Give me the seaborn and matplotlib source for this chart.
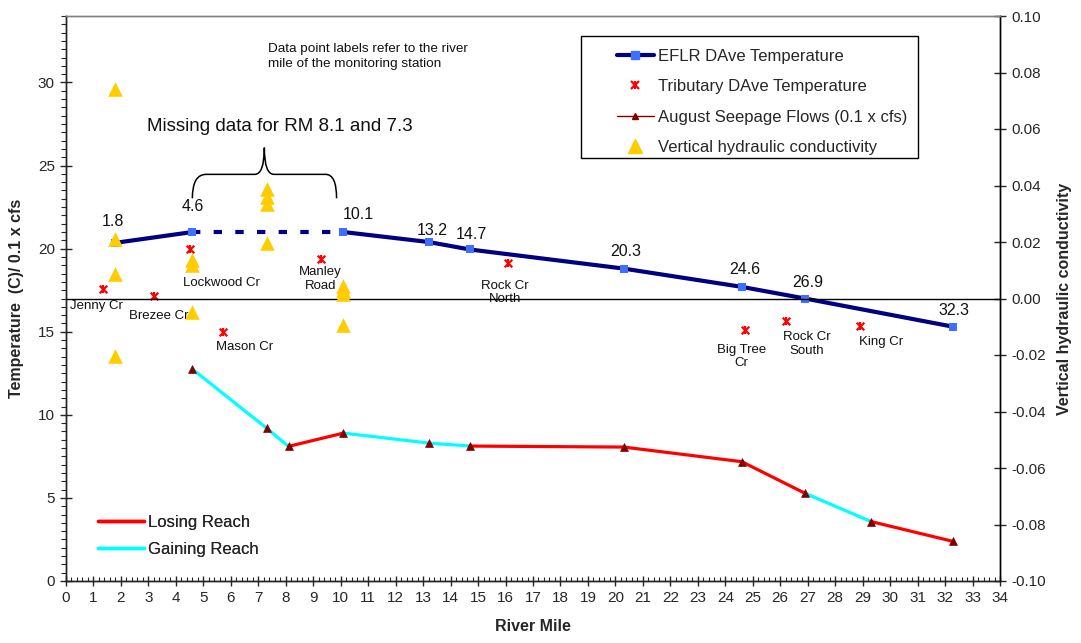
import numpy as np
import pandas as pd
import matplotlib
matplotlib.use("Agg")
import matplotlib.pyplot as plt
from matplotlib.lines import Line2D
from matplotlib.patches import Rectangle, PathPatch
from matplotlib.path import Path
import seaborn as sns

# ---------------- data ----------------
eflr_mile = [1.8, 4.6, 10.1, 13.2, 14.7, 20.3, 24.6, 26.9, 32.3]
eflr_temp = [20.35, 21.0, 21.0, 20.4, 19.95, 18.8, 17.7, 17.0, 15.3]
eflr_labels = ["1.8", "4.6", "10.1", "13.2", "14.7", "20.3", "24.6", "26.9", "32.3"]

trib_names = ["Jenny Cr", "Brezee Cr", "Lockwood Cr", "Mason Cr", "Manley\nRoad",
              "Rock Cr\nNorth", "Big Tree\nCr", "Rock Cr\nSouth", "King Cr"]
trib_mile = [1.36, 3.2, 4.5, 5.7, 9.3, 16.1, 24.7, 26.2, 28.9]
trib_temp = [17.55, 17.15, 19.95, 14.97, 19.38, 19.15, 15.13, 15.65, 15.35]

seep_mile = [4.6, 7.3, 8.1, 10.1, 13.2, 14.7, 20.3, 24.6, 26.9, 29.3, 32.3]
seep_flow = [12.75, 9.2, 8.1, 8.9, 8.3, 8.12, 8.06, 7.18, 5.28, 3.58, 2.38]
# reach type of each segment between consecutive seepage points
seep_reach = ["Gaining", "Gaining", "Losing", "Gaining", "Gaining",
              "Losing", "Losing", "Losing", "Gaining", "Losing"]

vhc_mile = [1.8, 1.8, 1.8, 1.8, 4.6, 4.6, 4.6, 7.3, 7.3, 7.3, 7.3, 10.1, 10.1, 10.1, 10.1]
vhc_value = [0.0743, 0.0210, 0.0088, -0.0204, 0.0135, 0.0118, -0.0047,
             0.0389, 0.0360, 0.0333, 0.0195, 0.0045, 0.0030, 0.0015, -0.0094]

x_ticks = list(range(0, 35))
left_ticks = [0, 5, 10, 15, 20, 25, 30]
right_ticks = [-0.10, -0.08, -0.06, -0.04, -0.02, 0.00, 0.02, 0.04, 0.06, 0.08, 0.10]

# ---------------- style ----------------
sns.set_theme(style="white")
plt.rcParams["font.family"] = ["Liberation Sans", "DejaVu Sans"]
plt.rcParams["axes.linewidth"] = 1.0

NAVY = "#000080"
BLUE = "#3F6FFF"
TRIB = "#FF0000"
DARKRED = "#800000"
GOLD = "#FFCC00"
LOSE = "#FF0000"
GAIN = "#00FFFF"

fig = plt.figure(figsize=(10.81, 6.43), dpi=100)
ax = fig.add_axes([66 / 1081, 1 - 581 / 643, (1000 - 66) / 1081, (581 - 16) / 643])
ax.set_xlim(0, 34)
ax.set_ylim(0, 34)

# ---- seepage flows, coloured by reach ----
seep_df = pd.DataFrame({"mile": seep_mile, "flow": seep_flow})
for i, reach in enumerate(seep_reach):
    seg = seep_df.iloc[i:i + 2]
    sns.lineplot(data=seg, x="mile", y="flow", ax=ax, color=LOSE if reach == "Losing" else GAIN,
                 lw=2.3, sort=False, estimator=None, zorder=3, legend=False)
sns.scatterplot(data=seep_df, x="mile", y="flow", ax=ax, marker="^", s=32,
                color=DARKRED, edgecolor=DARKRED, linewidth=0.5, zorder=4, legend=False)

# ---- EFLR temperature (dashed across the missing reach) ----
eflr_df = pd.DataFrame({"mile": eflr_mile, "temp": eflr_temp})
sns.lineplot(data=eflr_df.iloc[0:2], x="mile", y="temp", ax=ax, color=NAVY, lw=3,
             estimator=None, zorder=5, legend=False)
sns.lineplot(data=eflr_df.iloc[1:3], x="mile", y="temp", ax=ax, color=NAVY, lw=3,
             estimator=None, zorder=5, legend=False, linestyle=(0, (2, 3.2)))
sns.lineplot(data=eflr_df.iloc[2:], x="mile", y="temp", ax=ax, color=NAVY, lw=3,
             estimator=None, zorder=5, legend=False)
sns.scatterplot(data=eflr_df, x="mile", y="temp", ax=ax, marker="s", s=36,
                color=BLUE, edgecolor=BLUE, linewidth=0, zorder=6, legend=False)
label_offsets = [(-3, 21), (0, 26), (15, 18), (4, 12), (2, 15), (2, 17), (3, 17), (3, 16), (1, 16)]
for xm, yv, lab, off in zip(eflr_mile, eflr_temp, eflr_labels, label_offsets):
    ax.annotate(lab, (xm, yv), xytext=off, textcoords="offset pixels",
                ha="center", va="center", fontsize=11.5, color="#111111", zorder=7)

# ---- tributary temperatures ----
trib_df = pd.DataFrame({"mile": trib_mile, "temp": trib_temp})
sns.scatterplot(data=trib_df, x="mile", y="temp", ax=ax, marker="x", s=30,
                color=TRIB, linewidth=1.6, zorder=6, legend=False)
sns.scatterplot(data=trib_df, x="mile", y="temp", ax=ax, marker="|", s=30,
                color=TRIB, linewidth=1.6, zorder=6, legend=False)
trib_offsets = [(-7, -17), (5, -20), (32, -34), (22, -15), (-1, -20),
                (-3, -30), (-3, -27), (21, -23), (21, -16)]
for xm, yv, lab, off in zip(trib_mile, trib_temp, trib_names, trib_offsets):
    ax.annotate(lab, (xm, yv), xytext=off, textcoords="offset pixels",
                ha="center", va="center", fontsize=9.5, color="#111111",
                linespacing=1.15, zorder=7)

# ---- annotations ----
ax.text(7.35, 31.57, "Data point labels refer to the river\nmile of the monitoring station",
        ha="left", va="center", fontsize=9.7, color="#111111", linespacing=1.35)
ax.text(7.77, 27.36, "Missing data for RM 8.1 and 7.3", ha="center", va="center",
        fontsize=13.5, color="#111111")
x0, x1 = eflr_mile[1], 9.85
xm = 7.22
yb, yh, yt = 23.03, 24.47, 26.08
verts = [(x0, yb), (x0, yh), (x0 + 0.5, yh),
         (xm - 0.35, yh),
         (xm, yh), (xm, yt),
         (xm, yh), (xm + 0.35, yh),
         (x1 - 0.4, yh),
         (x1, yh), (x1, yb)]
codes = [Path.MOVETO, Path.CURVE3, Path.CURVE3,
         Path.LINETO,
         Path.CURVE3, Path.CURVE3,
         Path.CURVE3, Path.CURVE3,
         Path.LINETO,
         Path.CURVE3, Path.CURVE3]
ax.add_patch(PathPatch(Path(verts, codes), facecolor="none", edgecolor="black", lw=1.1, zorder=7))

# ---- axes formatting (left / bottom) ----
ax.set_xticks(x_ticks)
ax.set_xticks(np.arange(0, 34.01, 0.2), minor=True)
ax.set_yticks(left_ticks)
ax.set_yticks(np.arange(0, 34.01, 0.5), minor=True)
ax.tick_params(axis="x", which="major", direction="inout", length=7, width=1, labelsize=11, pad=4,
               bottom=True)
ax.tick_params(axis="x", which="minor", direction="in", length=3, width=0.8, bottom=True)
ax.tick_params(axis="y", which="major", direction="inout", length=8, width=1, labelsize=11, pad=4,
               left=True)
ax.tick_params(axis="y", which="minor", direction="out", length=3.5, width=0.8, left=True)
ax.set_xlabel("River Mile", fontsize=11.5, fontweight="bold", labelpad=10)
ax.set_ylabel("Temperature  (C)/ 0.1 x cfs", fontsize=11.5, fontweight="bold", labelpad=10)
for s in ["left", "bottom", "right"]:
    ax.spines[s].set_color("black")
ax.spines["top"].set_color("#808080")

# ---- right axis: vertical hydraulic conductivity ----
ax2 = ax.twinx()
ax2.set_ylim(-0.10, 0.10)
ax2.axhline(0, color="black", lw=1.0, zorder=1)
vhc_df = pd.DataFrame({"mile": vhc_mile, "vhc": vhc_value})
sns.scatterplot(data=vhc_df, x="mile", y="vhc", ax=ax2, marker="^", s=110,
                color=GOLD, edgecolor=GOLD, linewidth=0, zorder=3, legend=False)
ax2.set_yticks(right_ticks)
ax2.set_yticklabels([f"{v:.2f}" for v in right_ticks])
ax2.tick_params(axis="y", which="major", direction="inout", length=8, width=1, labelsize=11, pad=4,
                right=True)
ax2.set_ylabel("Vertical hydraulic conductivity", fontsize=11.5, fontweight="bold", labelpad=8)
ax2.set_xlabel("")
ax2.spines["right"].set_color("black")
ax2.spines["top"].set_color("#808080")
ax2.grid(False)
ax.grid(False)

# ---- main legend (with a hand-sized frame) ----
frame = Rectangle((581 / 1081, 1 - 158 / 643), (918 - 581) / 1081, (158 - 36) / 643,
                  transform=fig.transFigure, facecolor="white", edgecolor="black",
                  lw=1.0, zorder=8, clip_on=False)
ax2.add_patch(frame)
handles = [
    Line2D([], [], color=NAVY, lw=3, marker="s", markersize=6, markerfacecolor=BLUE,
           markeredgecolor=BLUE),
    (Line2D([], [], color=TRIB, lw=0, marker="x", markersize=6, markeredgewidth=1.6),
     Line2D([], [], color=TRIB, lw=0, marker="|", markersize=6, markeredgewidth=1.6)),
    Line2D([], [], color=DARKRED, lw=1, marker="^", markersize=5),
    Line2D([], [], color=GOLD, lw=0, marker="^", markersize=10),
]
labels = ["EFLR DAve Temperature", "Tributary DAve Temperature",
          "August Seepage Flows (0.1 x cfs)", "Vertical hydraulic conductivity"]
leg = ax2.legend(handles, labels, loc="upper left", bbox_to_anchor=(605 / 1081, 1 - 37 / 643),
                 bbox_transform=fig.transFigure, frameon=False, fontsize=12,
                 handlelength=2.25, handletextpad=0.25, labelspacing=0.93, borderpad=0.2)
leg.set_zorder(9)
ax2.add_artist(leg)

# ---- reach legend ----
rh = [Line2D([], [], color=LOSE, lw=2.5), Line2D([], [], color=GAIN, lw=2.5)]
leg2 = ax2.legend(rh, ["Losing Reach", "Gaining Reach"], loc="upper left",
                  bbox_to_anchor=(86 / 1081, 1 - 503 / 643), bbox_transform=fig.transFigure,
                  frameon=False, fontsize=12, handlelength=2.8, handletextpad=0.25,
                  labelspacing=0.75, borderpad=0.2)
leg2.set_zorder(9)
ax2.add_artist(leg2)

fig.savefig("out.png", dpi=100)
